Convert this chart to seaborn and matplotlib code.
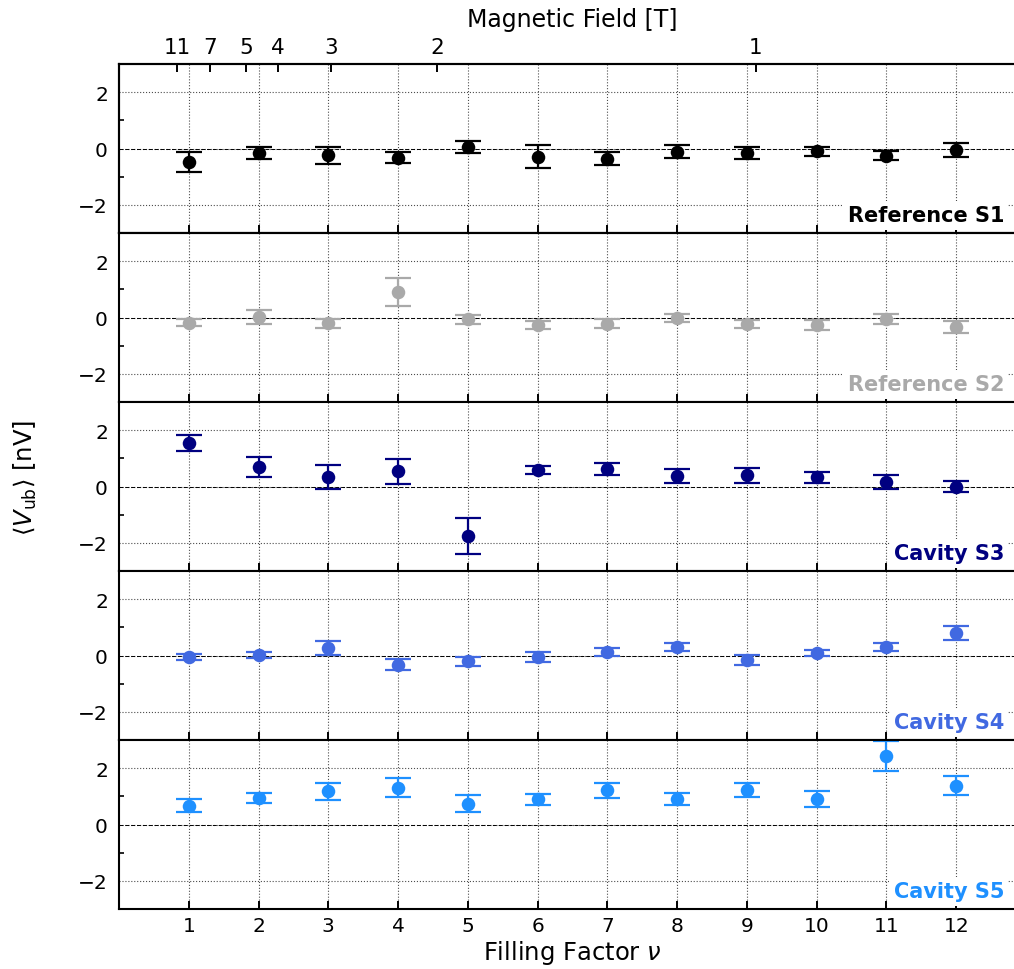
import numpy as np
import matplotlib
matplotlib.use("Agg")
import matplotlib.pyplot as plt
from matplotlib.ticker import MultipleLocator
import seaborn as sns

# ---------------- data ----------------
filling_factor = [1, 2, 3, 4, 5, 6, 7, 8, 9, 10, 11, 12]

s1_mean = [-0.48, -0.16, -0.24, -0.32, 0.06, -0.29, -0.36, -0.11, -0.16, -0.10, -0.26, -0.04]
s1_err = [0.37, 0.21, 0.30, 0.19, 0.22, 0.42, 0.23, 0.22, 0.20, 0.17, 0.16, 0.25]
s2_mean = [-0.18, 0.02, -0.21, 0.91, -0.07, -0.26, -0.22, -0.01, -0.24, -0.26, -0.05, -0.34]
s2_err = [0.12, 0.26, 0.16, 0.51, 0.16, 0.14, 0.15, 0.15, 0.15, 0.17, 0.18, 0.22]
s3_mean = [1.55, 0.69, 0.34, 0.54, -1.75, 0.58, 0.63, 0.37, 0.40, 0.33, 0.15, 0.00]
s3_err = [0.29, 0.37, 0.44, 0.44, 0.64, 0.14, 0.22, 0.24, 0.27, 0.19, 0.25, 0.19]
s4_mean = [-0.06, 0.01, 0.27, -0.32, -0.21, -0.06, 0.13, 0.30, -0.15, 0.09, 0.31, 0.79]
s4_err = [0.11, 0.11, 0.25, 0.20, 0.16, 0.18, 0.15, 0.14, 0.17, 0.12, 0.15, 0.24]
s5_mean = [0.67, 0.95, 1.18, 1.31, 0.74, 0.89, 1.21, 0.91, 1.22, 0.91, 2.43, 1.37]
s5_err = [0.22, 0.17, 0.31, 0.34, 0.29, 0.21, 0.28, 0.22, 0.25, 0.28, 0.52, 0.34]

sample_names = ["Reference S1", "Reference S2", "Cavity S3", "Cavity S4", "Cavity S5"]
sample_colors = ["black", "darkgray", "navy", "royalblue", "dodgerblue"]
means = [s1_mean, s2_mean, s3_mean, s4_mean, s5_mean]
errs = [s1_err, s2_err, s3_err, s4_err, s5_err]

# magnetic field tick labels (top axis), B = nu0 / nu
field_ticks = [11, 7, 5, 4, 3, 2, 1]
nu_at_1T = 9.13

# ---------------- style ----------------
sns.set_theme(style="white")
plt.rcParams["font.family"] = ["DejaVu Sans"]
plt.rcParams["mathtext.fontset"] = "dejavusans"
plt.rcParams["text.color"] = "black"
plt.rcParams["axes.labelcolor"] = "black"
plt.rcParams["xtick.color"] = "black"
plt.rcParams["ytick.color"] = "black"

W, H = 1014, 970
fig = plt.figure(figsize=(W / 100, H / 100), dpi=100)

left_px, right_px = 119, 1026
top_px, panel_h = 65, 169

axes = []
for i, (name, col, m, e) in enumerate(zip(sample_names, sample_colors, means, errs)):
    top = top_px + i * panel_h
    ax = fig.add_axes([left_px / W, 1 - (top + panel_h) / H,
                       (right_px - left_px) / W, panel_h / H])
    axes.append(ax)
    ax.grid(True, which="major", ls=":", color="0.3", lw=0.8)
    ax.axhline(0, ls=(0, (4, 2)), color="black", lw=0.7, zorder=1.5)
    ax.errorbar(filling_factor, m, yerr=e, fmt="none", ecolor=col,
                elinewidth=1.6, capsize=9.4, capthick=1.6, zorder=2.5)
    sns.scatterplot(x=filling_factor, y=m, ax=ax, color=col, s=95,
                    linewidth=0, zorder=3)
    ax.set_xlim(0, 13)
    ax.set_ylim(-3, 3)
    ax.set_xticks(filling_factor)
    ax.set_yticks([-2, 0, 2])
    ax.yaxis.set_minor_locator(MultipleLocator(1))
    ax.tick_params(axis="both", which="major", direction="in", length=6,
                   width=1.4, labelsize=14.5, color="black", labelcolor="black")
    ax.tick_params(axis="y", which="major", pad=8)
    ax.tick_params(axis="y", which="minor", direction="in", length=3.5,
                   width=1.2, left=True)
    ax.tick_params(axis="x", which="major", bottom=True, top=False, pad=5)
    for sp in ax.spines.values():
        sp.set_linewidth(1.5)
        sp.set_color("black")
    if i < len(sample_names) - 1:
        ax.tick_params(axis="x", labelbottom=False)
    ax.text(0.9758, 0.045, name, transform=ax.transAxes, ha="right",
            va="bottom", color=col, fontsize=15, fontweight="bold",
            bbox=dict(facecolor="white", edgecolor="none", pad=3), zorder=4)
    ax.set_xlabel("")
    ax.set_ylabel("")

axes[-1].set_xlabel("Filling Factor $\\nu$", fontsize=17.5, labelpad=2,
                    color="black")

# top axis: magnetic field
ax_top = axes[0].twiny()
ax_top.set_xlim(axes[0].get_xlim())
ax_top.set_xticks([nu_at_1T / b for b in field_ticks])
ax_top.set_xticklabels([str(b) for b in field_ticks])
ax_top.tick_params(axis="x", direction="in", length=6, width=1.4,
                   labelsize=15.5, pad=5, top=True, bottom=False,
                   color="black", labelcolor="black")
ax_top.grid(False)
ax_top.set_xlabel("Magnetic Field [T]", fontsize=17, labelpad=8, color="black")
for sp in ax_top.spines.values():
    sp.set_linewidth(1.5)
    sp.set_color("black")

fig.text(0.025, 1 - 478 / H, "$\\langle V_{\\mathrm{ub}}\\rangle$ [nV]",
         rotation=90, ha="center", va="center", fontsize=17.5, color="black")

fig.savefig("out.png", dpi=100)
